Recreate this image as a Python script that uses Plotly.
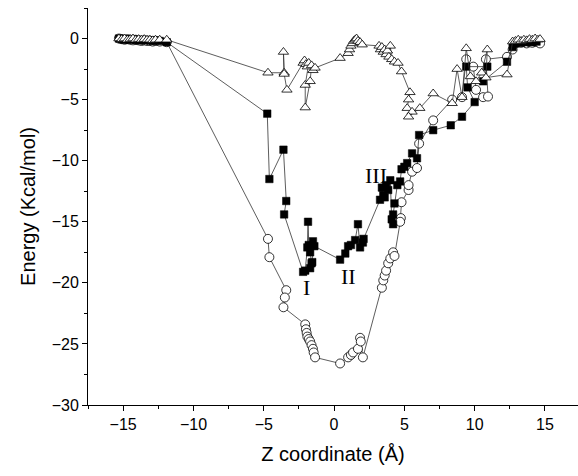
import plotly.graph_objects as go

# Open triangles
tri_x = [-15.3, -15.1, -14.9, -14.7, -14.5, -14.3, -14.1, -13.9, -13.7, -13.5, -13.3, -13.1, -12.9, -12.7, -12.4, -11.9,
         -4.7, -3.55, -3.6, -3.55, -3.35,
         -2.2, -2.1, -2.0, -1.9, -1.8, -2.05, -2.05, -1.7, -1.6, -1.5, -1.35,
         0.43, 1.0, 1.1, 1.2, 1.3, 1.4, 1.5, 1.6, 1.7, 1.85, 2.0,
         3.2, 3.3, 3.4, 3.5, 3.6, 3.7, 3.8, 3.9, 4.0, 4.1, 4.3, 4.55, 4.8,
         5.4, 5.3, 5.2, 5.55, 5.3, 6.1, 7.05, 8.4, 8.75, 9.1, 9.4, 9.7, 10.1, 10.5, 10.9, 10.8,
         12.3, 12.7, 12.9, 13.1, 13.3, 13.5, 13.7, 13.9, 14.1, 14.3, 14.5, 14.65]
tri_y = [0.0, -0.05, 0.0, -0.1, -0.05, 0.0, -0.1, -0.05, -0.1, -0.05, -0.1, -0.1, -0.15, -0.1, -0.1, -0.1,
         -2.8, -2.8, -1.1, -2.9, -4.2,
         -2.0, -1.8, -2.1, -2.3, -2.0, -3.8, -5.65, -3.5, -2.2, -2.6, -2.4,
         -1.6, -1.2, -0.9, -0.6, -0.4, -0.2, -0.1, 0.0, -0.2, -0.3, -0.5,
         -0.6, -0.9, -0.7, -1.1, -0.9, -1.3, -1.0, -1.5, -0.6, -1.7, -1.9, -2.0, -2.7,
         -4.4, -5.0, -5.7, -6.0, -6.4, -5.7, -4.5, -5.3, -2.5, -4.8, -0.8, -3.1, -3.5, -2.8, -0.9, -3.2,
         -2.95, -0.25, -0.2, -0.1, -0.2, -0.1, -0.15, -0.05, -0.1, 0.0, -0.1, -0.05]

# Filled squares
sq_x = [-15.3, -15.1, -14.9, -14.7, -14.5, -14.3, -14.1, -13.9, -13.7, -13.5, -13.3, -13.1, -12.9, -12.7, -12.4, -11.9,
        -4.75, -4.6, -3.6, -3.4, -3.55,
        -2.2, -2.05, -1.9, -1.85, -1.8, -1.7, -1.6, -1.7, -1.55, -1.5, -1.4,
        0.43, 0.8, 1.0, 1.2, 1.5, 1.7, 1.85, 2.05, 2.1,
        3.27, 3.4, 3.5, 3.6, 3.7, 3.85, 4.0, 4.1, 4.2, 4.2, 4.3, 4.5, 4.7, 4.8, 5.0, 5.2, 5.55, 5.9,
        6.05, 7.05, 8.3, 9.1, 10.0, 9.5, 9.4, 10.9, 10.6,
        12.3, 12.7, 12.9, 13.1, 13.3, 13.5, 13.7, 13.9, 14.1, 14.4]
sq_y = [0.0, -0.05, -0.1, -0.05, -0.1, -0.05, -0.1, -0.15, -0.1, -0.15, -0.1, -0.15, -0.2, -0.15, -0.2, -0.3,
        -6.15, -11.5, -9.1, -13.3, -14.4,
        -19.1, -19.0, -17.1, -15.0, -16.9, -17.5, -18.4, -18.8, -18.3, -16.6, -17.0,
        -18.1, -17.6, -17.0, -16.9, -16.5, -15.2, -17.1, -16.7, -16.4,
        -13.2, -12.2, -12.8, -13.0, -12.0, -12.4, -11.6, -14.8, -15.2, -14.4, -13.5, -12.0, -11.7, -10.7, -10.5, -10.2, -9.4, -9.8,
        -7.9, -7.5, -7.1, -6.4, -5.2, -4.0, -2.3, -2.3, -3.5,
        -1.9, -0.7, -0.4, -0.3, -0.35, -0.25, -0.3, -0.2, -0.3, -0.25]

# Open circles
ci_x = [-15.3, -15.1, -14.9, -14.7, -14.5, -14.3, -14.1, -13.9, -13.7, -13.5, -13.3, -13.1, -12.9, -12.7, -12.4, -11.9,
        -4.7, -4.6, -3.4, -3.5, -3.6,
        -2.05, -2.0, -1.95, -1.9, -1.8, -1.7, -1.6, -1.5, -1.45, -1.35,
        0.43, 1.0, 1.2, 1.35, 1.7, 1.85, 1.9, 2.05,
        3.4, 3.5, 3.6, 3.7, 3.85, 4.0, 4.2, 4.3, 4.75, 4.7, 4.8, 5.3, 5.3, 5.55, 5.9,
        6.05, 7.05, 8.4, 9.1, 9.4, 9.9, 10.1, 10.6, 10.95, 10.8,
        12.3, 12.7, 12.9, 13.1, 13.3, 13.5, 13.7, 13.9, 14.1, 14.3, 14.5, 14.65]
ci_y = [0.0, -0.05, -0.1, -0.05, -0.1, -0.15, -0.1, -0.15, -0.2, -0.15, -0.2, -0.2, -0.25, -0.2, -0.25, -0.3,
        -16.4, -17.9, -20.6, -21.2, -22.0,
        -23.4, -23.8, -24.1, -24.4, -24.6, -24.8, -25.1, -25.4, -25.7, -26.1,
        -26.6, -26.1, -25.9, -25.7, -25.4, -24.5, -24.8, -26.1,
        -20.4, -19.8, -19.4, -19.0, -18.4, -18.0, -17.5, -17.8, -14.7, -15.0, -13.4, -12.4, -12.0, -10.9, -10.6,
        -8.6, -6.7, -5.0, -4.8, -1.7, -2.3, -4.2, -4.8, -4.75, -1.7,
        -1.5, -0.9, -0.4, -0.3, -0.35, -0.3, -0.4, -0.3, -0.35, -0.25, -0.3, -0.4]

label_text = ["I", "II", "III"]
label_x = [-1.99, 1.03, 2.95]
label_y = [-20.4, -19.5, -11.2]

x_ticks = [-15, -10, -5, 0, 5, 10, 15]
y_ticks = [-30, -25, -20, -15, -10, -5, 0]

fig = go.Figure()
line_style = dict(color="#333333", width=0.8)
fig.add_trace(go.Scatter(x=ci_x, y=ci_y, mode="lines+markers", line=line_style,
                         marker=dict(symbol="circle", size=9, color="white",
                                     line=dict(color="black", width=0.8))))
fig.add_trace(go.Scatter(x=sq_x, y=sq_y, mode="lines+markers", line=line_style,
                         marker=dict(symbol="square", size=7.5, color="black",
                                     line=dict(color="black", width=0.5))))
fig.add_trace(go.Scatter(x=tri_x, y=tri_y, mode="lines+markers", line=line_style,
                         marker=dict(symbol="triangle-up", size=9, color="white",
                                     line=dict(color="black", width=0.8))))

for t, xx, yy in zip(label_text, label_x, label_y):
    fig.add_annotation(x=xx, y=yy, text=t, showarrow=False,
                       font=dict(family="Liberation Serif", size=22, color="black"))

axis_common = dict(showgrid=False, zeroline=False, showline=True, linecolor="black", linewidth=1,
                   ticks="outside", ticklen=5, tickwidth=1, tickcolor="black",
                   tickfont=dict(family="Arial, Liberation Sans", size=16, color="black"),
                   mirror=False)
fig.update_xaxes(range=[-17.5, 17.35], tickvals=x_ticks, **axis_common,
                 minor=dict(dtick=2.5, tick0=0, ticks="outside", ticklen=3, tickcolor="black"),
                 title=dict(text="Z coordinate (Å)", font=dict(family="Arial, Liberation Sans", size=20, color="black"),
                            standoff=14))
fig.update_yaxes(range=[-30, 2.5], tickvals=y_ticks, **axis_common,
                 minor=dict(dtick=2.5, tick0=0, ticks="outside", ticklen=3, tickcolor="black"),
                 title=dict(text="Energy (Kcal/mol)", font=dict(family="Arial, Liberation Sans", size=20, color="black"),
                            standoff=10))
fig.update_layout(width=578, height=476, margin=dict(l=88, r=0, t=8, b=71),
                  plot_bgcolor="white", paper_bgcolor="white", showlegend=False)
fig.write_html("out.html")
